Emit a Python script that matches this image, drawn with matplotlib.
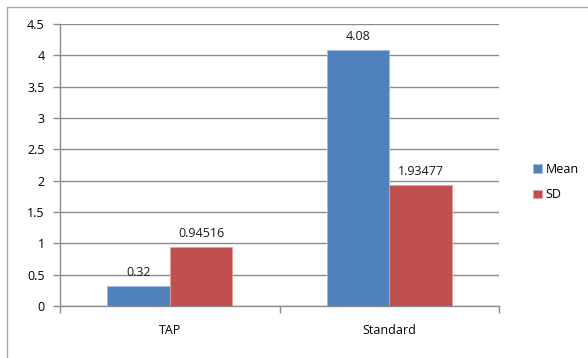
import matplotlib.pyplot as plt
import numpy as np
from matplotlib.patches import Rectangle

categories = ['TAP', 'Standard']
mean_vals = [0.32, 4.08]
sd_vals = [0.94516, 1.93477]
mean_labels = ['0.32', '4.08']
sd_labels = ['0.94516', '1.93477']
yticks = [0, 0.5, 1, 1.5, 2, 2.5, 3, 3.5, 4, 4.5]

plt.rcParams['font.family'] = ['Open Sans', 'DejaVu Sans']

fig = plt.figure(figsize=(5.88, 3.58), dpi=100)
ax = fig.add_axes([60 / 588, 1 - 306 / 358, 439 / 588, 282 / 358])

# outer chart frame (only left and top edges show in the crop)
fig.patches.append(Rectangle((7 / 588, -1.0), 2.0, 2.0 - 7 / 358,
                             transform=fig.transFigure, fill=False,
                             edgecolor='#a6a6a6', lw=1.0))

x = np.arange(len(categories))
w = 1 / 3.5  # gap width 150%
blue = '#4f81bd'
red = '#c0504d'

b1 = ax.bar(x - w / 2, mean_vals, w, color=blue, edgecolor='#9dbbe0', lw=0.6, label='Mean', zorder=3)
b2 = ax.bar(x + w / 2, sd_vals, w, color=red, edgecolor='#e3a09e', lw=0.6, label='SD', zorder=3)

for xi, v, t in zip(x - w / 2, mean_vals, mean_labels):
    ax.annotate(t, (xi, v), xytext=(0, 5), textcoords='offset points',
                ha='center', va='bottom', fontsize=9, color='#1a1a1a')
for xi, v, t in zip(x + w / 2, sd_vals, sd_labels):
    ax.annotate(t, (xi, v), xytext=(0, 5), textcoords='offset points',
                ha='center', va='bottom', fontsize=9, color='#1a1a1a')

ax.set_xlim(-0.5, 1.5)
ax.set_ylim(0, 4.5)
ax.set_yticks(yticks)
ax.set_yticklabels(['0', '0.5', '1', '1.5', '2', '2.5', '3', '3.5', '4', '4.5'], fontsize=9)
ax.yaxis.grid(True, color='#8c8c8c', lw=1.0, zorder=0)
ax.set_axisbelow(True)

ax.set_xticks([-0.5, 0.5, 1.5])
ax.set_xticklabels([])
ax.set_xticks(x, minor=True)
ax.set_xticklabels(categories, minor=True, fontsize=9)
ax.tick_params(axis='x', which='minor', length=0, pad=13)
ax.tick_params(axis='x', which='major', length=5, color='#8c8c8c', width=1)
ax.tick_params(axis='y', length=5, color='#8c8c8c', width=1, pad=6)

for s in ['top', 'right']:
    ax.spines[s].set_visible(False)
for s in ['left', 'bottom']:
    ax.spines[s].set_color('#8c8c8c')
    ax.spines[s].set_linewidth(1.0)

fig.legend(handles=[b1, b2], loc='center left', bbox_to_anchor=(522 / 588, 1 - 182 / 358),
           frameon=False, fontsize=9, handlelength=0.7, handleheight=0.7,
           handletextpad=0.3, labelspacing=1.0)

fig.savefig('out.png', dpi=100, facecolor='white')
